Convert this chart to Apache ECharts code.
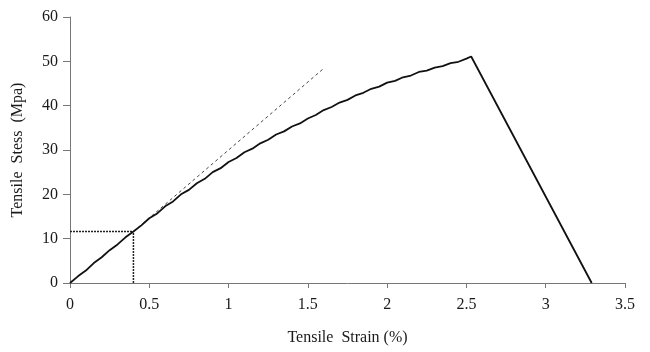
<!DOCTYPE html>
<html><head><meta charset="utf-8">
<script src="https://cdn.jsdelivr.net/npm/echarts@6/dist/echarts.min.js"></script>
<style>html,body{margin:0;padding:0;background:#fff}#c{width:650px;height:352px}</style>
</head><body><div id="c"></div>
<script>
// Stress-strain curve (strain %, stress MPa)
const strain = [0,0.05,0.1,0.15,0.2,0.25,0.3,0.35,0.4,0.45,0.5,0.55,0.6,0.65,0.7,0.75,0.8,0.85,0.9,0.95,1.0,1.05,1.1,1.15,1.2,1.25,1.3,1.35,1.4,1.45,1.5,1.55,1.6,1.65,1.7,1.75,1.8,1.85,1.9,1.95,2.0,2.05,2.1,2.15,2.2,2.25,2.3,2.35,2.4,2.45,2.5,2.53,3.29];
const stress = [0,1.5,2.8,4.5,5.8,7.4,8.7,10.3,11.6,13.0,14.6,15.7,17.3,18.4,20.0,21.0,22.5,23.5,25.0,25.9,27.3,28.2,29.5,30.3,31.5,32.3,33.5,34.2,35.3,36.0,37.1,37.9,39.0,39.7,40.7,41.3,42.3,42.9,43.8,44.3,45.2,45.6,46.4,46.8,47.6,47.9,48.6,48.9,49.6,49.9,50.6,51.1,0];
// Dashed initial-modulus line
const tangentStrain = [0.4, 1.6];
const tangentStress = [11.6, 48.4];
// Dotted marker at the proportional limit
const markStrain = 0.4;
const markStress = 11.6;
const xTicks = {min:0, max:3.5, interval:0.5};
const yTicks = {min:0, max:60, interval:10};

const curve = strain.map((x,i)=>[x, stress[i]]);
const tangent = tangentStrain.map((x,i)=>[x, tangentStress[i]]);
const hMark = [[0, markStress],[markStrain, markStress]];
const vMark = [[markStrain, 0],[markStrain, markStress]];

const font = '"Liberation Serif", "Times New Roman", serif';
const axisCol = '#777';
const txt = '#1a1a1a';
const chart = echarts.init(document.getElementById('c'), null, {renderer:'canvas'});
chart.setOption({
  animation:false,
  backgroundColor:'#fff',
  grid:{left:70, right:25, top:17, bottom:69, containLabel:false},
  xAxis:{type:'value', min:xTicks.min, max:xTicks.max, interval:xTicks.interval,
    name:'Tensile  Strain (%)', nameLocation:'middle', nameGap:47,
    nameTextStyle:{fontFamily:font, fontSize:16, color:txt},
    axisLine:{lineStyle:{color:axisCol, width:1}},
    axisTick:{show:true, length:5, lineStyle:{color:axisCol}},
    axisLabel:{fontFamily:font, fontSize:16, color:txt, margin:14},
    splitLine:{show:false}},
  yAxis:{type:'value', min:yTicks.min, max:yTicks.max, interval:yTicks.interval,
    name:'Tensile  Stess  (Mpa)', nameLocation:'middle', nameGap:44, nameRotate:90,
    nameTextStyle:{fontFamily:font, fontSize:16, color:txt},
    axisLine:{show:true, lineStyle:{color:axisCol, width:1}},
    axisTick:{show:true, length:7, lineStyle:{color:axisCol}},
    axisLabel:{fontFamily:font, fontSize:16, color:txt, margin:12},
    splitLine:{show:false}},
  series:[
    {type:'line', data:hMark, symbol:'none', lineStyle:{color:'#222', width:1.5, type:[2,1]}, z:2},
    {type:'line', data:vMark, symbol:'none', lineStyle:{color:'#222', width:1.5, type:[2,1]}, z:2},
    {type:'line', data:tangent, symbol:'none', lineStyle:{color:'#444', width:1, type:[3,3]}, z:2},
    {type:'line', data:curve, symbol:'none', lineStyle:{color:'#111', width:1.8}, z:3}
  ]
});
</script></body></html>
